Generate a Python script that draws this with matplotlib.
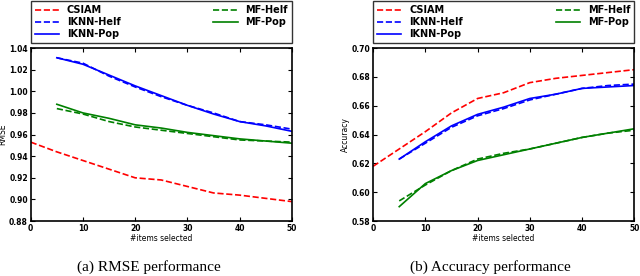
import matplotlib.pyplot as plt

x_all = [0, 5, 10, 15, 20, 25, 30, 35, 40, 45, 50]
x_sel = [5, 10, 15, 20, 25, 30, 35, 40, 45, 50]

# RMSE
rmse_csiam = [0.953, 0.944, 0.936, 0.928, 0.920, 0.918, 0.912, 0.906, 0.904, 0.901, 0.898]
rmse_iknn_helf = [1.031, 1.026, 1.014, 1.004, 0.995, 0.987, 0.980, 0.972, 0.969, 0.965]
rmse_iknn_pop = [1.031, 1.025, 1.015, 1.005, 0.996, 0.987, 0.979, 0.972, 0.968, 0.963]
rmse_mf_helf = [0.984, 0.979, 0.972, 0.967, 0.964, 0.961, 0.958, 0.955, 0.954, 0.953]
rmse_mf_pop = [0.988, 0.980, 0.975, 0.969, 0.966, 0.962, 0.959, 0.956, 0.954, 0.952]

# Accuracy
acc_csiam = [0.618, 0.630, 0.642, 0.655, 0.665, 0.669, 0.676, 0.679, 0.681, 0.683, 0.685]
acc_iknn_helf = [0.623, 0.634, 0.645, 0.653, 0.658, 0.664, 0.668, 0.672, 0.674, 0.675]
acc_iknn_pop = [0.623, 0.635, 0.646, 0.654, 0.659, 0.665, 0.668, 0.672, 0.673, 0.674]
acc_mf_helf = [0.594, 0.605, 0.615, 0.623, 0.627, 0.630, 0.634, 0.638, 0.641, 0.643]
acc_mf_pop = [0.590, 0.606, 0.615, 0.622, 0.626, 0.630, 0.634, 0.638, 0.641, 0.644]

plt.rcParams['font.family'] = 'DejaVu Sans'
plt.rcParams['font.weight'] = 'bold'

fig = plt.figure(figsize=(6.4, 2.76), dpi=100)
ax1 = fig.add_axes([0.048, 0.199, 0.408, 0.627])
ax2 = fig.add_axes([0.583, 0.199, 0.408, 0.627])


def draw(ax, csiam, ih, ip, mh, mp, ylim, yticks, ylabel):
    ax.plot(x_all, csiam, 'r--', lw=1.2, label='CSIAM')
    ax.plot(x_sel, ih, 'b--', lw=1.2, label='IKNN-Helf')
    ax.plot(x_sel, ip, 'b-', lw=1.2, label='IKNN-Pop')
    ax.plot(x_sel, mh, 'g--', lw=1.2, label='MF-Helf')
    ax.plot(x_sel, mp, 'g-', lw=1.2, label='MF-Pop')
    ax.set_xlim(0, 50)
    ax.set_ylim(*ylim)
    ax.set_yticks(yticks)
    ax.set_yticklabels(['%.2f' % t for t in yticks])
    ax.set_xticks([0, 10, 20, 30, 40, 50])
    ax.tick_params(direction='in', top=True, right=True, labelsize=5.5, pad=2, length=3)
    ax.set_xlabel('#items selected', fontsize=5.5, labelpad=1)
    ax.set_ylabel(ylabel, fontsize=5.5, labelpad=1)
    for s in ax.spines.values():
        s.set_linewidth(1.2)
    leg = ax.legend(loc='lower left', bbox_to_anchor=(0, 1.03, 1, 0.3), mode='expand',
                    ncol=2, fontsize=7, frameon=True, fancybox=False, borderaxespad=0,
                    handlelength=2.5, labelspacing=0.2)
    leg.get_frame().set_edgecolor('black')
    leg.get_frame().set_linewidth(1.0)


draw(ax1, rmse_csiam, rmse_iknn_helf, rmse_iknn_pop, rmse_mf_helf, rmse_mf_pop,
     (0.88, 1.04), [0.88, 0.90, 0.92, 0.94, 0.96, 0.98, 1.00, 1.02, 1.04], 'RMSE')
draw(ax2, acc_csiam, acc_iknn_helf, acc_iknn_pop, acc_mf_helf, acc_mf_pop,
     (0.58, 0.70), [0.58, 0.60, 0.62, 0.64, 0.66, 0.68, 0.70], 'Accuracy')

fig.text(0.232, 0.02, '(a) RMSE performance', family='Liberation Serif',
         weight='normal', fontsize=11, ha='center')
fig.text(0.766, 0.02, '(b) Accuracy performance', family='Liberation Serif',
         weight='normal', fontsize=11, ha='center')

fig.savefig('out.png', dpi=100)
